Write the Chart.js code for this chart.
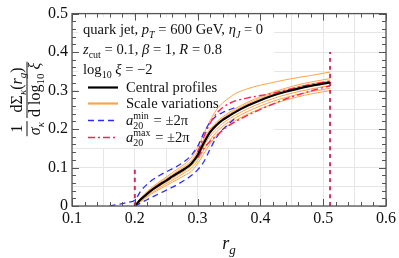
<!DOCTYPE html>
<html lang="en">
<head>
    <meta charset="UTF-8">
    <title>rg profile</title>
    <script src="https://cdn.jsdelivr.net/npm/chart.js"></script>
    <style>
        html, body { margin: 0; padding: 0; background: #fff; overflow: hidden; }
        #wrap { width: 399px; height: 258px; }
    </style>
</head>
<body>
<div id="wrap"><canvas id="chart"></canvas></div>
<script>
    // r_g grid shared by central profile and scale variations
    const rGrid = [0.2, 0.21, 0.22, 0.23, 0.24, 0.25, 0.26, 0.27, 0.28, 0.29, 0.30, 0.31, 0.32, 0.33, 0.34, 0.35, 0.36, 0.38, 0.40, 0.42, 0.44, 0.46, 0.48, 0.50, 0.511];
    const central = [0, 0.018, 0.032, 0.045, 0.056, 0.066, 0.077, 0.087, 0.097, 0.11, 0.132, 0.164, 0.192, 0.21, 0.224, 0.234, 0.244, 0.261, 0.275, 0.287, 0.297, 0.305, 0.312, 0.318, 0.321];

    // scale variations
    const scale1 = [0, 0.022, 0.038, 0.052, 0.064, 0.075, 0.087, 0.098, 0.11, 0.126, 0.152, 0.188, 0.222, 0.25, 0.268, 0.281, 0.292, 0.305, 0.314, 0.321, 0.328, 0.334, 0.339, 0.345, 0.348];
    const scale2 = [0, 0.02, 0.035, 0.049, 0.061, 0.071, 0.082, 0.093, 0.104, 0.118, 0.142, 0.174, 0.2, 0.218, 0.232, 0.243, 0.253, 0.27, 0.284, 0.296, 0.306, 0.315, 0.322, 0.328, 0.331];
    const scale3 = [0, 0.016, 0.03, 0.042, 0.052, 0.062, 0.072, 0.082, 0.092, 0.104, 0.125, 0.155, 0.182, 0.2, 0.215, 0.226, 0.236, 0.253, 0.267, 0.279, 0.289, 0.297, 0.304, 0.31, 0.313];
    const scale4 = [0, 0.014, 0.027, 0.038, 0.048, 0.058, 0.067, 0.077, 0.087, 0.098, 0.118, 0.146, 0.172, 0.192, 0.207, 0.219, 0.229, 0.246, 0.26, 0.272, 0.282, 0.29, 0.297, 0.303, 0.306];
    const scale5 = [0, 0.012, 0.024, 0.035, 0.044, 0.053, 0.062, 0.071, 0.08, 0.09, 0.11, 0.136, 0.162, 0.183, 0.199, 0.211, 0.222, 0.239, 0.253, 0.265, 0.275, 0.284, 0.291, 0.297, 0.3];
    const scale6 = [0, 0.019, 0.034, 0.047, 0.058, 0.068, 0.079, 0.09, 0.1, 0.114, 0.137, 0.168, 0.196, 0.214, 0.228, 0.239, 0.249, 0.266, 0.28, 0.292, 0.301, 0.31, 0.317, 0.323, 0.326];

    // a20 min variations
    const rMinUp = [0.16, 0.17, 0.18, 0.19, 0.2, 0.21, 0.22, 0.23, 0.24, 0.25, 0.26, 0.27, 0.28, 0.29, 0.30, 0.31, 0.32, 0.33, 0.34, 0.35, 0.36];
    const aMinUp = [0, 0.003, 0.006, 0.01, 0.015, 0.04, 0.057, 0.07, 0.08, 0.089, 0.097, 0.106, 0.117, 0.132, 0.155, 0.19, 0.218, 0.234, 0.243, 0.25, 0.256];
    const rMinLow = [0.2, 0.21, 0.22, 0.23, 0.24, 0.25, 0.26, 0.27, 0.28, 0.29, 0.30, 0.31, 0.32, 0.33, 0.34, 0.35, 0.36];
    const aMinLow = [0, 0.008, 0.017, 0.025, 0.033, 0.041, 0.049, 0.058, 0.068, 0.079, 0.094, 0.115, 0.148, 0.178, 0.199, 0.214, 0.228];

    // a20 max variations
    const rMax = [0.30, 0.31, 0.32, 0.33, 0.34, 0.35, 0.36, 0.38, 0.40, 0.42, 0.44, 0.46, 0.48, 0.50, 0.511];
    const aMaxUp = [0.14, 0.18, 0.215, 0.24, 0.256, 0.266, 0.273, 0.281, 0.287, 0.293, 0.301, 0.309, 0.316, 0.321, 0.324];
    const aMaxLow = [0.125, 0.15, 0.168, 0.183, 0.197, 0.209, 0.219, 0.236, 0.251, 0.265, 0.278, 0.289, 0.299, 0.308, 0.312];

    // transition points (vertical dashed markers)
    const cutR = [0.2, 0.511];
    const cutTop = [0.1, 0.4];

    const F = '"Liberation Serif", "DejaVu Serif", serif';
    const pts = (xs, ys) => xs.map((x, i) => ({ x: x, y: ys[i] }));

    const orange = '#ffa347';
    const lineSet = (data, color, width, dash) => ({
        data: data, borderColor: color, borderWidth: width, borderDash: dash || [],
        pointRadius: 0, fill: false, cubicInterpolationMode: 'monotone'
    });

    const datasets = [
        lineSet(pts(rGrid, central), '#000', 2.2),
        lineSet(pts(rMax, aMaxUp), '#ff1f5a', 1.4, [7, 3, 2, 3]),
        lineSet(pts(rMax, aMaxLow), '#ff1f5a', 1.4, [7, 3, 2, 3]),
        lineSet(pts(rMinUp, aMinUp), '#2b2bff', 1.3, [6, 4]),
        lineSet(pts(rMinLow, aMinLow), '#2b2bff', 1.3, [6, 4]),
        lineSet(pts([cutR[0], cutR[0]], [0, cutTop[0]]), '#cc3060', 2, [4, 4]),
        lineSet(pts([cutR[1], cutR[1]], [0, cutTop[1]]), '#cc3060', 2, [4, 4]),
        lineSet(pts(rGrid, scale1), orange, 1),
        lineSet(pts(rGrid, scale2), orange, 1),
        lineSet(pts(rGrid, scale3), orange, 1),
        lineSet(pts(rGrid, scale4), orange, 1),
        lineSet(pts(rGrid, scale5), orange, 1),
        lineSet(pts(rGrid, scale6), orange, 1)
    ];

    // draws text with italic / subscript / superscript pieces
    function rich(ctx, x, y, segs, sz, draw) {
        ctx.textBaseline = 'alphabetic';
        ctx.textAlign = 'left';
        const small = Math.round(sz * 0.7);
        const font = (it, px) => (it ? 'italic ' : '') + px + 'px ' + F;
        for (const [t, f = ''] of segs) {
            if (f.includes('s')) {
                const [lo, hi] = t.split('|');
                ctx.font = font(false, small);
                if (draw !== false) {
                    ctx.fillText(lo, x, y + sz * 0.28);
                    ctx.fillText(hi, x, y - sz * 0.4);
                }
                x += Math.max(ctx.measureText(lo).width, ctx.measureText(hi).width) + 1;
            } else {
                const sub = f.includes('b'), sup = f.includes('p');
                ctx.font = font(f.includes('i'), sub || sup ? small : sz);
                if (draw !== false) ctx.fillText(t, x, y + (sub ? sz * 0.28 : sup ? -sz * 0.4 : 0));
                x += ctx.measureText(t).width;
            }
        }
        return x;
    }

    const legendBox = {
        id: 'legendBox',
        beforeDatasetsDraw(chart) {
            const ctx = chart.ctx;
            ctx.save();
            ctx.fillStyle = '#fff';
            ctx.fillRect(78, 17, 196, 131);
            ctx.restore();
        },
        afterDatasetsDraw(chart) {
            const ctx = chart.ctx;
            ctx.save();
            ctx.fillStyle = '#111';
            const sz = 14.6;
            rich(ctx, 83, 34, [['quark jet, '], ['p', 'i'], ['T', 'ib'], [' = 600 GeV, '], ['η', 'i'], ['J', 'ib'], [' = 0']], sz);
            rich(ctx, 83, 54, [['z', 'i'], ['cut', 'b'], [' = 0.1, '], ['β', 'i'], [' = 1, '], ['R', 'i'], [' = 0.8']], sz);
            rich(ctx, 83, 74, [['log'], ['10', 'b'], [' '], ['ξ', 'i'], [' = −2']], sz);

            const entries = [
                { y: 92, color: '#000', w: 2.2, dash: [], segs: [['Central profiles']] },
                { y: 108, color: orange, w: 2.2, dash: [], segs: [['Scale variations']] },
                { y: 125, color: '#2b2bff', w: 1.3, dash: [6, 4], segs: [['a', 'i'], ['20|min', 's'], [' = ±2π']] },
                { y: 142, color: '#ff1f5a', w: 1.4, dash: [7, 3, 2, 3], segs: [['a', 'i'], ['20|max', 's'], [' = ±2π']] }
            ];
            for (const e of entries) {
                ctx.beginPath();
                ctx.strokeStyle = e.color;
                ctx.lineWidth = e.w;
                ctx.setLineDash(e.dash);
                ctx.moveTo(88, e.y - 4.5);
                ctx.lineTo(118, e.y - 4.5);
                ctx.stroke();
                ctx.setLineDash([]);
                rich(ctx, 126, e.y, e.segs, sz);
            }
            ctx.restore();
        },
        afterDraw(chart) {
            const ctx = chart.ctx;
            const a = chart.chartArea;
            const xs = chart.scales.x, ys = chart.scales.y;
            ctx.save();
            ctx.strokeStyle = '#555';
            ctx.lineWidth = 1;
            // inward ticks on all four sides
            ctx.beginPath();
            for (let i = 0; i <= 25; i++) {
                const v = 0.1 + i * 0.02;
                const px = Math.round(xs.getPixelForValue(v)) + 0.5;
                const len = i % 5 === 0 ? 7 : 4;
                ctx.moveTo(px, a.bottom); ctx.lineTo(px, a.bottom - len);
                ctx.moveTo(px, a.top); ctx.lineTo(px, a.top + len);
            }
            for (let i = 0; i <= 25; i++) {
                const v = i * 0.02;
                const py = Math.round(ys.getPixelForValue(v)) + 0.5;
                const len = i % 5 === 0 ? 7 : 4;
                ctx.moveTo(a.left, py); ctx.lineTo(a.left + len, py);
                ctx.moveTo(a.right, py); ctx.lineTo(a.right - len, py);
            }
            ctx.stroke();
            ctx.lineWidth = 1.3;
            ctx.strokeRect(a.left, a.top, a.right - a.left, a.bottom - a.top);

            // x title
            ctx.fillStyle = '#111';
            const xt = [['r', 'i'], ['g', 'ib']];
            const w = rich(ctx, 0, 0, xt, 18, false);
            rich(ctx, (a.left + a.right) / 2 - w / 2, 249, xt, 18);

            // y title: (1/σκ) dΣκ(rg) / d log10 ξ, rotated
            ctx.translate(27, 99);
            ctx.rotate(-Math.PI / 2);
            const s = 16;
            const num1 = [['1']], den1 = [['σ', 'i'], ['κ', 'ib']];
            const num2 = [['dΣ'], ['κ', 'ib'], ['('], ['r', 'i'], ['g', 'ib'], [')']];
            const den2 = [['d log'], ['10', 'b'], [' '], ['ξ', 'i']];
            const wn1 = rich(ctx, 0, 0, num1, s, false), wd1 = rich(ctx, 0, 0, den1, s, false);
            const wn2 = rich(ctx, 0, 0, num2, s, false), wd2 = rich(ctx, 0, 0, den2, s, false);
            const w1 = Math.max(wn1, wd1) + 2, w2 = Math.max(wn2, wd2) + 2;
            const total = w1 + 3 + w2;
            const x1 = -total / 2, x2 = x1 + w1 + 3;
            rich(ctx, x1 + (w1 - wn1) / 2, -5, num1, s);
            rich(ctx, x1 + (w1 - wd1) / 2, 13, den1, s);
            rich(ctx, x2 + (w2 - wn2) / 2, -5, num2, s);
            rich(ctx, x2 + (w2 - wd2) / 2, 13, den2, s);
            ctx.strokeStyle = '#111';
            ctx.lineWidth = 1;
            ctx.beginPath();
            ctx.moveTo(x1, 0); ctx.lineTo(x1 + w1, 0);
            ctx.moveTo(x2, 0); ctx.lineTo(x2 + w2, 0);
            ctx.stroke();
            ctx.restore();
        }
    };

    const label = v => {
        const k = Math.round(v * 20);
        if (k % 2 !== 0) return '';
        return k === 0 ? '0' : (k / 20).toFixed(1);
    };

    new Chart(document.getElementById('chart'), {
        type: 'line',
        data: { datasets: datasets },
        options: {
            responsive: true,
            maintainAspectRatio: false,
            animation: false,
            layout: { padding: { top: 13, right: 11, left: 0, bottom: 0 } },
            scales: {
                x: {
                    type: 'linear', min: 0.1, max: 0.6,
                    afterFit(s) { s.height = 52; },
                    ticks: {
                        stepSize: 0.05, autoSkip: false, maxRotation: 0, padding: 3,
                        color: '#111', font: { family: F, size: 16 }, callback: label
                    },
                    grid: { color: '#e6e6e6', drawTicks: false },
                    border: { display: false }
                },
                y: {
                    min: 0, max: 0.5,
                    afterFit(s) { s.width = 72; },
                    ticks: {
                        stepSize: 0.05, autoSkip: false, padding: 4,
                        color: '#111', font: { family: F, size: 16 }, callback: label
                    },
                    grid: { color: '#e6e6e6', drawTicks: false },
                    border: { display: false }
                }
            },
            plugins: { legend: { display: false }, tooltip: { enabled: false } }
        },
        plugins: [legendBox]
    });
</script>
</body>
</html>
